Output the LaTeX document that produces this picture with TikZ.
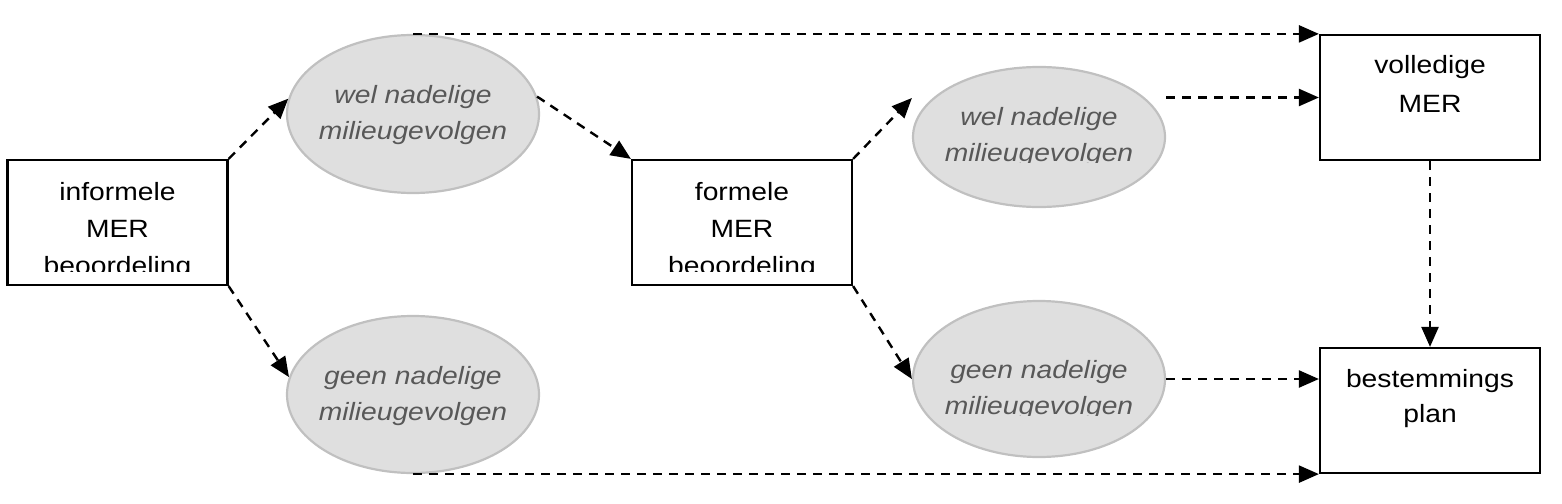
\documentclass[tikz,border=0pt]{standalone}
\usepackage{fontspec}
\setmainfont{Liberation Sans}[FakeStretch=1.13]
\usetikzlibrary{arrows.meta,shapes.geometric,calc}
\definecolor{efill}{HTML}{DFDFDF}
\definecolor{edraw}{HTML}{C0C0C0}
\definecolor{etext}{HTML}{585858}
\begin{document}
\begin{tikzpicture}[x=1pt,y=-1pt,
  box/.style={draw=black,line width=2.2pt,fill=white,minimum width=220pt,minimum height=125pt,inner sep=0pt},
  ell/.style={ellipse,draw=edraw,fill=efill,line width=2.2pt,inner sep=0pt,minimum width=252pt},
  btxt/.style={anchor=base,font=\fontsize{25}{30}\selectfont,text=black,inner sep=0pt},
  etxt/.style={anchor=base,font=\fontsize{25}{30}\selectfont\itshape,text=etext,inner sep=0pt},
  conn/.style={draw=black,line width=2.4pt,dash pattern=on 9pt off 7pt,-{Triangle[length=20pt,width=17pt]}}]
\useasboundingbox (0,0) rectangle (1562,503);

% shapes
\node[box] (inf) at (117.5,222.5) {};
\node[ell,minimum height=158pt] (e1) at (413,114) {};
\node[ell,minimum height=157pt] (e2) at (413,394.5) {};
\node[box] (for) at (742,222.5) {};
\node[ell,minimum height=140pt] (e3) at (1039,137) {};
\node[ell,minimum height=156pt] (e4) at (1039,379) {};
\node[box] (vol) at (1430,97.5) {};
\node[box] (bes) at (1430,410.5) {};

% texts
\begin{scope}
  \clip (8,161) rectangle (227,271);
  \node[btxt] (inf1) at (117.5,200) {informele};
  \node[btxt] (inf2) at (117.5,237) {MER};
  \node[btxt] (inf3) at (117.5,274) {beoordeling};
\end{scope}
\begin{scope}
  \clip (633,161) rectangle (852,271);
  \node[btxt] (for1) at (742,200) {formele};
  \node[btxt] (for2) at (742,237) {MER};
  \node[btxt] (for3) at (742,274) {beoordeling};
\end{scope}
\node[etxt] (e1a) at (413,103.5) {wel nadelige};
\node[etxt] (e1b) at (413,139.5) {milieugevolgen};
\node[etxt] (e2a) at (413,384) {geen nadelige};
\node[etxt] (e2b) at (413,420) {milieugevolgen};
\begin{scope}
  \clip (913,67) rectangle (1165,162.5);
  \node[etxt] (e3a) at (1039,125) {wel nadelige};
  \node[etxt] (e3b) at (1039,161) {milieugevolgen};
\end{scope}
\begin{scope}
  \clip (913,300) rectangle (1165,415);
  \node[etxt] (e4a) at (1039,378) {geen nadelige};
  \node[etxt] (e4b) at (1039,414) {milieugevolgen};
\end{scope}
\node[btxt] (vol1) at (1430,74) {volledige};
\node[btxt] (vol2) at (1430,112) {MER};
\node[btxt] (bes1) at (1430,387) {bestemmings};
\node[btxt] (bes2) at (1430,422) {plan};

% connectors
\draw[conn] (inf.north east) -- (e1.173);
\draw[conn] (inf.south east) -- (e2.172);
\draw[conn] (e1.8) -- (for.north west);
\draw[conn] (for.north east) -- ($(e3.west)+(0,-39)$);
\draw[conn] (for.south east) -- (e4.west);
\draw[conn] (e1.north) -- (vol.north west);
\draw[conn] (e3.east |- vol.west) -- (vol.west);
\draw[conn] (e4.east) -- (e4.east -| bes.west);
\draw[conn] (e2.south) -- (bes.south west);
\draw[conn] (vol.south) -- (bes.north);
\end{tikzpicture}
\end{document}
